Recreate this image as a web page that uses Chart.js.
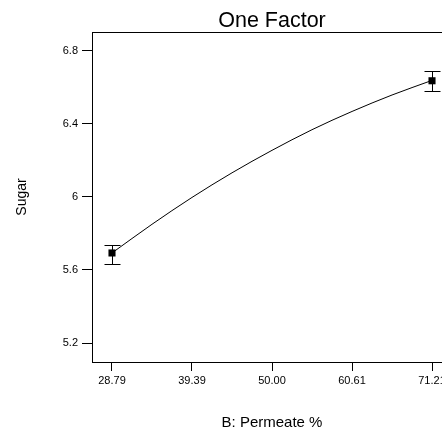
<!DOCTYPE html>
<html>
<head>
<meta charset="utf-8">
<title>One Factor</title>
<script src="https://cdn.jsdelivr.net/npm/chart.js@4"></script>
<style>
  html, body { margin: 0; padding: 0; background: #fff; }
  #wrap { width: 442px; height: 432px; overflow: hidden; }
  canvas { display: block; }
</style>
</head>
<body>
<div id="wrap"><canvas id="grafico" width="462" height="432"></canvas></div>
<script>
// Datos
const xTicks = [28.79, 39.395, 50.00, 60.605, 71.21];
const xTickLabels = ['28.79', '39.39', '50.00', '60.61', '71.21'];
const yTicks = [5.2, 5.6, 6.0, 6.4, 6.8];
const yTickLabels = ['5.2', '5.6', '6', '6.4', '6.8'];
const xRange = [26.14, 73.86];
const yRange = [5.096, 6.903];

// Curva del modelo
const curveX = [28.79, 34.09, 39.39, 44.70, 50.00, 55.30, 60.61, 65.91, 71.21];
const curveY = [5.693, 5.850, 5.997, 6.132, 6.255, 6.368, 6.468, 6.558, 6.638];

// Puntos medidos con barras de error
const pointX = [28.79, 71.21];
const pointY = [5.693, 6.636];
const errLow = [5.635, 6.581];
const errHigh = [5.739, 6.687];

Chart.defaults.font.family = 'Arial, "Liberation Sans", sans-serif';
Chart.defaults.color = '#000';

// Plugin para dibujar las barras de error
const barrasError = {
    id: 'barrasError',
    beforeDatasetsDraw(chart) {
        const ctx = chart.ctx;
        const xs = chart.scales.x;
        const ys = chart.scales.y;
        ctx.save();
        ctx.strokeStyle = '#000';
        ctx.lineWidth = 1;
        pointX.forEach((v, i) => {
            const px = Math.round(xs.getPixelForValue(v)) + 0.5;
            const lo = Math.round(ys.getPixelForValue(errLow[i])) + 0.5;
            const hi = Math.round(ys.getPixelForValue(errHigh[i])) + 0.5;
            ctx.beginPath();
            ctx.moveTo(px, lo);
            ctx.lineTo(px, hi);
            ctx.moveTo(px - 8, lo);
            ctx.lineTo(px + 8, lo);
            ctx.moveTo(px - 8, hi);
            ctx.lineTo(px + 8, hi);
            ctx.stroke();
        });
        ctx.restore();
    }
};

const ctx = document.querySelector('#grafico').getContext('2d');
new Chart(ctx, {
    type: 'scatter',
    data: {
        datasets: [{
            data: curveX.map((x, i) => ({ x: x, y: curveY[i] })),
            showLine: true,
            borderColor: '#000',
            borderWidth: 1,
            pointRadius: 0,
            cubicInterpolationMode: 'monotone'
        }, {
            data: pointX.map((x, i) => ({ x: x, y: pointY[i] })),
            showLine: false,
            pointStyle: 'rect',
            pointRadius: 5,
            backgroundColor: '#000',
            borderColor: '#000',
            borderWidth: 0
        }]
    },
    options: {
        responsive: false,
        animation: false,
        devicePixelRatio: 1,
        layout: { padding: { left: 0, right: 10, top: 0, bottom: 0 } },
        plugins: {
            legend: { display: false },
            tooltip: { enabled: false }
        },
        scales: {
            x: {
                type: 'linear',
                position: 'bottom',
                min: xRange[0],
                max: xRange[1],
                afterBuildTicks: s => { s.ticks = xTicks.map(v => ({ value: v })); },
                afterFit: s => { s.height = 70; },
                ticks: {
                    font: { size: 11 },
                    padding: 3,
                    maxRotation: 0,
                    autoSkip: false,
                    callback: (v, i) => xTickLabels[i]
                },
                grid: { drawOnChartArea: false, tickLength: 9, tickColor: '#000' },
                border: { color: '#000', width: 1 },
                title: { display: true, text: 'B: Permeate %', font: { size: 15 }, padding: { top: 0, bottom: 0 } }
            },
            x2: {
                type: 'linear',
                position: 'top',
                min: xRange[0],
                max: xRange[1],
                afterFit: s => { s.height = 32; },
                ticks: { display: false },
                grid: { display: false },
                border: { color: '#000', width: 1 },
                title: { display: true, text: 'One Factor', font: { size: 21.5 }, padding: { top: 8, bottom: 0 } }
            },
            y: {
                type: 'linear',
                position: 'left',
                min: yRange[0],
                max: yRange[1],
                afterBuildTicks: s => { s.ticks = yTicks.map(v => ({ value: v })); },
                afterFit: s => { s.width = 92; },
                ticks: {
                    font: { size: 11 },
                    padding: 4,
                    callback: (v, i) => yTickLabels[i]
                },
                grid: { drawOnChartArea: false, tickLength: 10, tickColor: '#000' },
                border: { color: '#000', width: 1 },
                title: { display: true, text: 'Sugar', font: { size: 14 }, padding: { top: 14, bottom: 0 } }
            }
        }
    },
    plugins: [barrasError]
});
</script>
</body>
</html>
